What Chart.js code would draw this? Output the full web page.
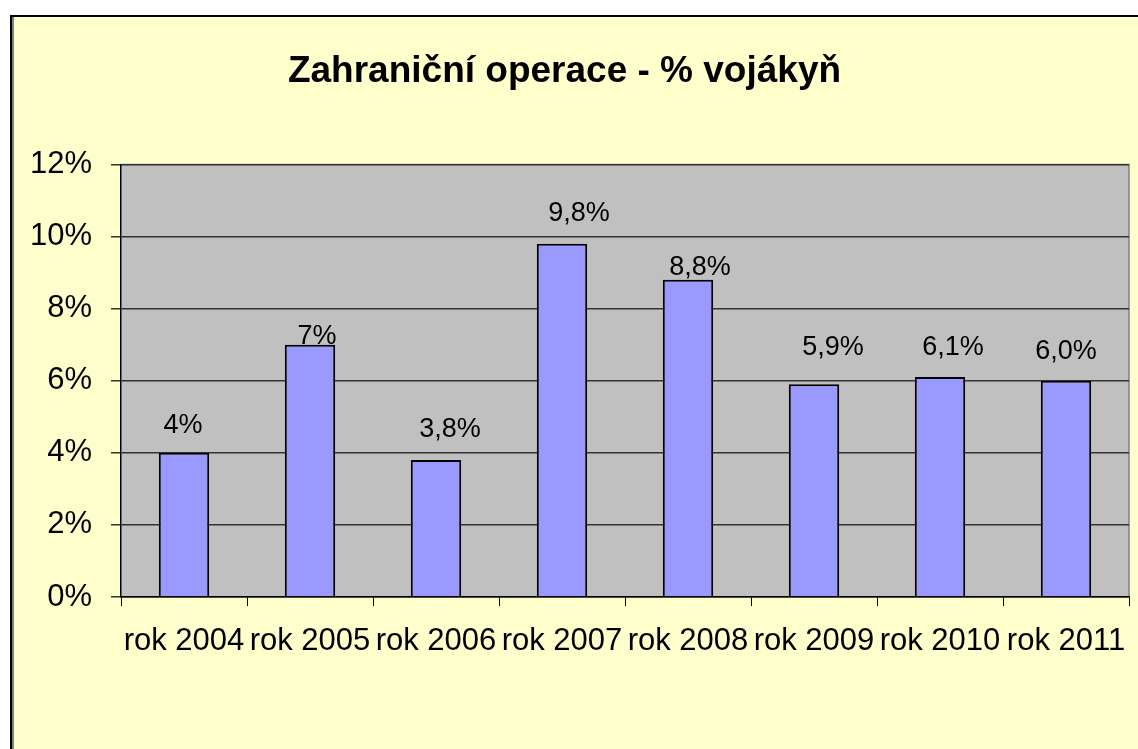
<!DOCTYPE html>
<html>
<head>
<meta charset="utf-8">
<script src="https://cdn.jsdelivr.net/npm/chart.js@4.4.0/dist/chart.umd.min.js"></script>
<style>
  html, body { margin: 0; padding: 0; background: #fff; overflow: hidden; }
  #wrap { position: relative; width: 1138px; height: 749px; }
</style>
</head>
<body>
<div id="wrap"><canvas id="chart"></canvas></div>
<script>
// data
const years = ['rok 2004', 'rok 2005', 'rok 2006', 'rok 2007', 'rok 2008', 'rok 2009', 'rok 2010', 'rok 2011'];
const percentWomen = [4, 7, 3.8, 9.8, 8.8, 5.9, 6.1, 6.0];
const valueLabels = ['4%', '7%', '3,8%', '9,8%', '8,8%', '5,9%', '6,1%', '6,0%'];
const yTicks = [0, 2, 4, 6, 8, 10, 12];

// label nudges relative to bar top (the labels were hand-placed in the original)
const labelDx = [-1, 7, 14, 17, 12, 19, 13, 0];
const labelDy = [-27, -8, -30, -30, -12, -37, -30, -29];

const FONT = 'Arial, "Liberation Sans", sans-serif';

const framePlugin = {
    id: 'frame',
    beforeDraw(chart) {
        const c = chart.ctx, w = chart.width, h = chart.height;
        c.save();
        c.fillStyle = '#ffffff';
        c.fillRect(0, 0, w, h);
        c.fillStyle = '#FFFFCC';
        c.fillRect(10, 15, w - 10, h - 15);
        c.fillStyle = '#000000';
        c.fillRect(10, 15, 2, h - 15);
        c.fillRect(10, 15, w - 10, 2);
        c.fillStyle = '#808080';
        c.fillRect(12, 17, 2, h - 17);
        // plot area
        const a = chart.chartArea;
        c.fillStyle = '#C0C0C0';
        c.fillRect(a.left, a.top, a.right - a.left, a.bottom - a.top);
        c.strokeStyle = '#808080';
        c.lineWidth = 1.5;
        c.beginPath();
        c.moveTo(a.left, a.top);
        c.lineTo(a.right, a.top);
        c.lineTo(a.right, a.bottom);
        c.stroke();
        c.restore();
    }
};

const valueLabelPlugin = {
    id: 'valueLabels',
    afterDatasetsDraw(chart) {
        const c = chart.ctx;
        const meta = chart.getDatasetMeta(0);
        c.save();
        c.font = '27px ' + FONT;
        c.fillStyle = '#000000';
        c.textAlign = 'center';
        c.textBaseline = 'middle';
        meta.data.forEach((bar, i) => {
            c.fillText(valueLabels[i], bar.x + labelDx[i], bar.y + labelDy[i]);
        });
        c.restore();
    }
};

new Chart(document.getElementById('chart'), {
    type: 'bar',
    data: {
        labels: years,
        datasets: [{
            data: percentWomen,
            backgroundColor: '#9999FF',
            borderColor: '#000000',
            borderWidth: 2,
            barPercentage: 0.4,
            categoryPercentage: 1.0
        }]
    },
    options: {
        responsive: true,
        maintainAspectRatio: false,
        animation: false,
        layout: { padding: { left: 0, right: 9, top: 0, bottom: 0 } },
        plugins: {
            legend: { display: false },
            tooltip: { enabled: false },
            title: {
                display: true,
                text: 'Zahraniční operace - % vojákyň',
                color: '#000000',
                font: { family: FONT, size: 37, weight: 'bold' },
                padding: { top: 50, bottom: 70 }
            }
        },
        scales: {
            x: {
                grid: { display: true, drawOnChartArea: false, drawTicks: true, tickLength: 9, color: '#000000', offset: true },
                border: { display: true, color: '#000000', width: 1.5 },
                ticks: { color: '#000000', font: { family: FONT, size: 31 }, padding: 17, maxRotation: 0, autoSkip: false },
                afterFit(scale) {
                    scale.height = 152;
                    scale.paddingLeft = 0;
                    scale.paddingRight = 0;
                }
            },
            y: {
                min: 0,
                max: 12,
                afterBuildTicks(scale) { scale.ticks = yTicks.map(v => ({ value: v })); },
                grid: { color: '#333333', lineWidth: 1.5, tickLength: 10 },
                border: { display: true, color: '#000000', width: 1.5 },
                ticks: {
                    color: '#000000',
                    font: { family: FONT, size: 31 },
                    padding: 19,
                    callback: v => v + '%'
                },
                afterFit(scale) { scale.width = 121; }
            }
        }
    },
    plugins: [framePlugin, valueLabelPlugin]
});
</script>
</body>
</html>
